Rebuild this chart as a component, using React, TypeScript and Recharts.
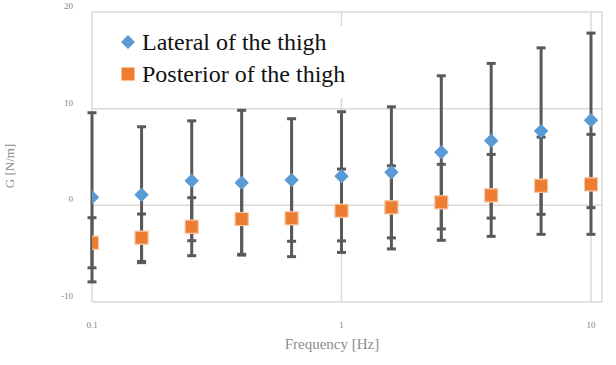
import { ScatterChart, Scatter, XAxis, YAxis, CartesianGrid, ErrorBar, Legend } from 'recharts'

// frequency points (Hz), spaced 0.2 decade apart
const frequencies = [0.1, 0.158, 0.251, 0.398, 0.631, 1, 1.585, 2.512, 3.981, 6.31, 10]

const lateralMean = [0.83, 1.1, 2.54, 2.34, 2.62, 3.0, 3.41, 5.48, 6.68, 7.68, 8.79]
const lateralSd = [8.75, 7.03, 6.2, 7.49, 6.34, 6.68, 6.78, 7.92, 8.0, 8.61, 9.03]

const posteriorMean = [-3.87, -3.35, -2.21, -1.42, -1.34, -0.56, -0.21, 0.31, 1.03, 2.03, 2.17]
const posteriorSd = [2.59, 2.45, 3.0, 3.65, 3.97, 4.31, 4.3, 3.93, 4.24, 5.03, 5.17]

const xTicks = [0.1, 1, 10]
const yTicks = [-10, 0, 10, 20]

const BLUE = '#5B9BD5'
const ORANGE = '#ED7D31'
const BAR = '#595959'
const GRID = '#d9d9d9'
const SERIF = '"Liberation Serif", "Times New Roman", serif'

const lateral = frequencies.map((x, i) => ({ x, y: lateralMean[i], err: lateralSd[i] }))
const posterior = frequencies.map((x, i) => ({ x, y: posteriorMean[i], err: posteriorSd[i] }))

const Diamond = (p: any) => (
  <polygon
    points={`${p.cx},${p.cy - 7} ${p.cx + 7},${p.cy} ${p.cx},${p.cy + 7} ${p.cx - 7},${p.cy}`}
    fill={BLUE}
  />
)

const Square = (p: any) => (
  <rect x={p.cx - 6.5} y={p.cy - 6.5} width={13} height={13} fill={ORANGE} stroke="#F8CBAD" strokeWidth={1} />
)

const XTick = (p: any) => (
  <text x={p.x} y={328} textAnchor="middle" fontSize={9} fill="#7f7f7f" fontFamily={SERIF}>
    {p.payload.value}
  </text>
)

const YTick = (p: any) => (
  <text x={73} y={p.y - 3} textAnchor="end" fontSize={9} fill="#7f7f7f" fontFamily={SERIF}>
    {p.payload.value}
  </text>
)

function LegendBox() {
  const row = { display: 'flex', alignItems: 'center', height: 32 }
  return (
    <div style={{ background: '#fff', padding: '0 8px 8px 6px', fontFamily: SERIF, fontSize: 24, lineHeight: '32px', color: '#111', whiteSpace: 'nowrap' }}>
      <div style={row}>
        <svg width={14} height={14} style={{ marginRight: 7 }}>
          <polygon points="7,0 14,7 7,14 0,7" fill={BLUE} />
        </svg>
        <span>Lateral of the thigh</span>
      </div>
      <div style={row}>
        <svg width={14} height={14} style={{ marginRight: 7 }}>
          <rect x={0.5} y={0.5} width={13} height={13} fill={ORANGE} />
        </svg>
        <span>Posterior of the thigh</span>
      </div>
    </div>
  )
}

export default function App() {
  return (
    <div style={{ position: 'absolute', left: 0, top: 0, background: '#fff' }}>
      <ScatterChart width={616} height={365} margin={{ top: 12, right: 14, bottom: 0, left: 0 }}>
        <CartesianGrid stroke={GRID} strokeWidth={1.5} />
        <XAxis
          dataKey="x"
          type="number"
          scale="log"
          domain={[0.1, 11.07]}
          ticks={xTicks}
          height={63}
          axisLine={false}
          tickLine={false}
          tick={<XTick />}
          allowDataOverflow
          label={() => (
            <text x={332} y={349} textAnchor="middle" fontSize={15} fill="#8c8c8c" fontFamily={SERIF}>
              Frequency [Hz]
            </text>
          )}
        />
        <YAxis
          dataKey="y"
          type="number"
          domain={[-10, 20]}
          ticks={yTicks}
          width={92}
          axisLine={false}
          tickLine={false}
          tick={<YTick />}
          label={() => (
            <text transform="translate(14,166) rotate(-90)" textAnchor="middle" fontSize={13} fill="#8c8c8c" fontFamily={SERIF}>
              G [N/m]
            </text>
          )}
        />
        <Legend
          layout="horizontal"
          verticalAlign="middle"
          align="center"
          wrapperStyle={{ left: 115, top: 26, width: 'auto', height: 'auto' }}
          content={() => <LegendBox />}
        />
        {/* error bars first so every marker sits on top of them */}
        <Scatter data={lateral} shape={Diamond} isAnimationActive={false} legendType="none">
          <ErrorBar dataKey="err" direction="y" width={4.5} strokeWidth={3} stroke={BAR} />
        </Scatter>
        <Scatter data={posterior} shape={Square} isAnimationActive={false} legendType="none">
          <ErrorBar dataKey="err" direction="y" width={4.5} strokeWidth={3} stroke={BAR} />
        </Scatter>
        <Scatter name="Lateral of the thigh" data={lateral} shape={Diamond} isAnimationActive={false} />
        <Scatter name="Posterior of the thigh" data={posterior} shape={Square} isAnimationActive={false} />
      </ScatterChart>
    </div>
  )
}
